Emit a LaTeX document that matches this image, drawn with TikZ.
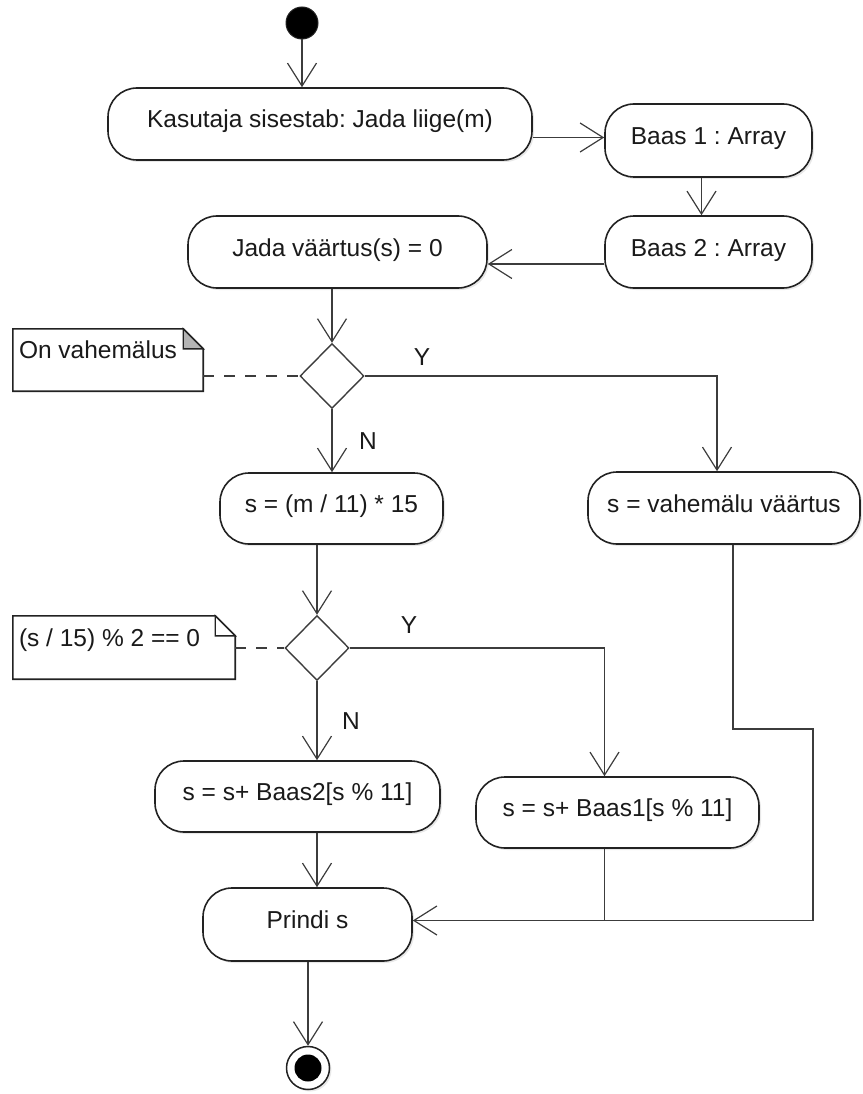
\documentclass[tikz,border=0pt]{standalone}
\usepackage{fontspec}
\setmainfont{Liberation Sans}
\usetikzlibrary{arrows.meta,shapes.geometric,shadows,calc}
\definecolor{edge}{HTML}{3C3C3C}
\definecolor{frame}{HTML}{222222}
\definecolor{ink}{HTML}{1A1A1A}
\definecolor{fold}{HTML}{B4B4B4}
\newcommand\notepath[1]{(#1.north west) -- ($(#1.north east)+(-20,0)$) -- ($(#1.north east)+(0,20)$) -- (#1.south east) -- (#1.south west) -- cycle}
\frenchspacing
\begin{document}
\begin{tikzpicture}[x=1pt,y=-1pt,
  txt/.style={font=\fontsize{24.5pt}{28pt}\selectfont, text=ink},
  act/.style={txt, draw=frame, line width=1.6pt, fill=white, rounded corners=29pt,
    inner sep=0pt, text height=18pt, text depth=10pt,
    drop shadow={shadow xshift=2pt, shadow yshift=-2pt, opacity=0.18}},
  choice/.style={diamond, draw=edge, line width=1.4pt, fill=white, inner sep=0pt,
    minimum width=64pt, minimum height=65pt},
  notebox/.style={inner sep=0pt},
  flow/.style={draw=edge, line width=1.2pt, -{Straight Barb[length=23pt,width=29pt]}},
  plain/.style={draw=edge, line width=1.2pt},
  link/.style={draw=edge, line width=1.3pt, dash pattern=on 11pt off 10pt},
  guard/.style={txt, anchor=base, inner sep=0pt}]
\useasboundingbox (0,0) rectangle (862,1094);

% start and end
\node[circle, fill=black, draw=frame, line width=1pt, minimum size=32pt, inner sep=0pt] (S) at (302,23) {};
\node[circle, draw=frame, line width=1.5pt, fill=white, minimum size=43pt, inner sep=0pt,
  drop shadow={shadow xshift=2pt, shadow yshift=-2pt, opacity=0.18}] (E) at (308,1068) {};
\fill[black] (E.center) circle[radius=13.5pt];

% actions
\node[act, minimum width=424pt, minimum height=72pt] (A1) at (320,124) {Kasutaja sisestab: Jada liige(m)};
\node[act, minimum width=207pt, minimum height=73pt] (B1) at (708.5,140.5) {Baas 1 : Array};
\node[act, minimum width=207pt, minimum height=72pt] (B2) at (708.5,252) {Baas 2 : Array};
\node[act, minimum width=299pt, minimum height=72pt] (J) at (337.5,252) {Jada väärtus(s) = 0};
\node[act, minimum width=223pt, minimum height=71pt] (S1) at (331.5,508.5) {s = (m / 11) * 15};
\node[act, minimum width=272pt, minimum height=72pt] (V) at (724,508) {s = vahemälu väärtus};
\node[act, minimum width=285pt, minimum height=71pt] (R2) at (297.5,796.5) {s = s+ Baas2[s \% 11]};
\node[act, minimum width=283pt, minimum height=71pt] (R1) at (617.5,812.5) {s = s+ Baas1[s \% 11]};
\node[act, minimum width=209pt, minimum height=73pt] (P) at (307.5,924.5) {Prindi s};

% decisions
\node[choice] (D1) at (332,376) {};
\node[choice] (D2) at (317,648) {};

% notes
\node[notebox, minimum width=190pt, minimum height=62pt] (N1) at (108,360) {};
\node[notebox, minimum width=222pt, minimum height=63pt] (N2) at (124,647.5) {};
\foreach \n in {N1,N2}{
  \fill[black, opacity=0.18, xshift=2pt, yshift=-2pt] \notepath{\n};
  \draw[frame, line width=1.6pt, fill=white] \notepath{\n};
}
\draw[frame, line width=1.4pt, fill=fold] ($(N1.north east)+(-20,0)$) -- ($(N1.north east)+(-20,20)$) -- ($(N1.north east)+(0,20)$) -- cycle;
\draw[frame, line width=1.4pt, fill=white] ($(N2.north east)+(-20,0)$) -- ($(N2.north east)+(-20,20)$) -- ($(N2.north east)+(0,20)$) -- cycle;
\node[txt, anchor=base west, inner sep=0pt] (N1t) at ($(N1.north west)+(6,30)$) {On vahemälus};
\node[txt, anchor=base west, inner sep=0pt] (N2t) at ($(N2.north west)+(6,31)$) {(s / 15) \% 2 == 0};
\draw[link] (N1.east |- D1.west) -- (D1.west);
\draw[link] (N2.east |- D2.west) -- (D2.west);

% junction points
\coordinate (a1b1) at ($(B1.west)+(0,-3)$);
\coordinate (vin) at ($(V.north)+(-7,0)$);
\coordinate (r1in) at ($(R1.north)+(-13,0)$);
\coordinate (vout) at ($(V.south)+(9,0)$);
\coordinate (bend) at (813,729);
\coordinate (pin) at ($(P.east)+(0,-4)$);

% control flow
\draw[flow] (S.south) -- (S.south |- A1.north);
\draw[flow] (A1.east |- a1b1) -- (a1b1);
\draw[flow] ($(B1.south)+(-7,0)$) -- ($(B2.north)+(-7,0)$);
\draw[flow] ($(B2.west)+(0,12)$) -- ($(J.east)+(0,12)$);
\draw[flow] (J.south -| D1.north) -- (D1.north);
\draw[flow] (D1.south) -- (D1.south |- S1.north);
\draw[flow] (D1.east) -| (vin);
\draw[flow] (S1.south -| D2.north) -- (D2.north);
\draw[flow] (D2.south) -- (D2.south |- R2.north);
\draw[flow] (D2.east) -| (r1in);
\draw[flow] (R2.south -| D2.south) -- (D2.south |- P.north);
\draw[plain] (r1in |- R1.south) -- (r1in |- pin);
\draw[flow] (vout) |- (bend) |- (pin);
\draw[flow] (P.south -| E.north) -- (E.north);

% guards
\node[guard] (y1) at (422,365) {Y};
\node[guard] (n1) at (368,449) {N};
\node[guard] (y2) at (409,633) {Y};
\node[guard] (n2) at (351,729) {N};
\end{tikzpicture}
\end{document}
